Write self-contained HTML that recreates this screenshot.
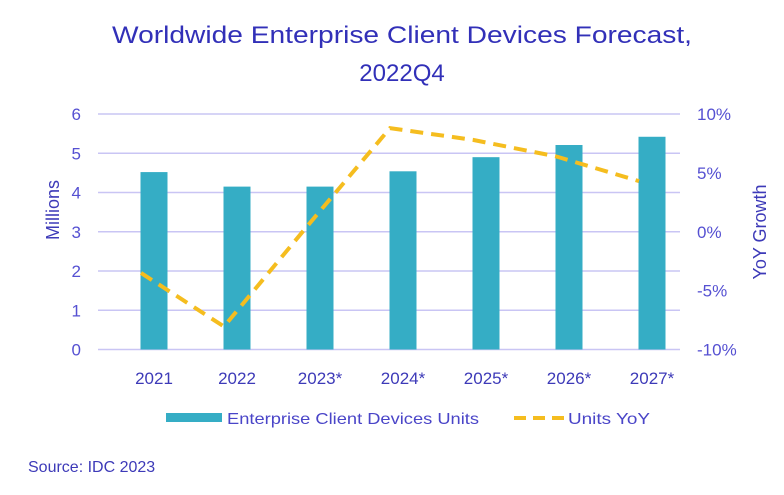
<!DOCTYPE html>
<html><head><meta charset="utf-8"><style>
html,body{margin:0;padding:0;background:#fff;}
svg{display:block;font-family:"Liberation Sans",sans-serif;}
</style></head><body>
<svg id="chart" width="784" height="495" viewBox="0 0 784 495">
<g fill="#3230b8" font-size="24" text-anchor="middle">
<text x="402" y="43" textLength="580" lengthAdjust="spacingAndGlyphs">Worldwide Enterprise Client Devices Forecast,</text>
<text x="402" y="81">2022Q4</text>
</g>
<g id="grid"></g>
<g id="bars"></g>
<path id="line" fill="none" stroke="#f5bd1f" stroke-width="4" stroke-dasharray="13,8"/>
<g id="ylab" fill="#5550d2" font-size="17" text-anchor="end"></g>
<g id="y2lab" fill="#5550d2" font-size="17"></g>
<g id="xlab" fill="#3d3ab8" font-size="17" text-anchor="middle"></g>
<text transform="translate(59,210) rotate(-90)" fill="#3d3ab8" font-size="18" text-anchor="middle">Millions</text>
<text transform="translate(766,232) rotate(-90)" fill="#3d3ab8" font-size="18" text-anchor="middle">YoY Growth</text>
<g>
<rect x="166" y="413" width="56" height="9" fill="#35adc5"/>
<text x="227" y="424" fill="#4a45c8" font-size="16" textLength="252" lengthAdjust="spacingAndGlyphs">Enterprise Client Devices Units</text>
<line x1="514" y1="418" x2="564" y2="418" stroke="#f5bd1f" stroke-width="4" stroke-dasharray="12,7"/>
<text x="568" y="424" fill="#4a45c8" font-size="16" textLength="82" lengthAdjust="spacingAndGlyphs">Units YoY</text>
</g>
<text x="28" y="472" fill="#3d3ab8" font-size="16">Source: IDC 2023</text>
</svg>
<script>
const categories=["2021","2022","2023*","2024*","2025*","2026*","2027*"];
const units=[4.52,4.15,4.15,4.54,4.90,5.21,5.42];
const yoy=[-3.5,-8.05,0.45,8.8,7.8,6.4,4.3];
const leftTicks=[0,1,2,3,4,5,6];
const rightTicks=[-10,-5,0,5,10];
const NS="http://www.w3.org/2000/svg";
const x0=98,x1=680,yTop=114,yBot=349.5;
const band=83;
const xc=i=>154+band*i;
const yL=v=>yBot-(v/6)*(yBot-yTop);
const yR=v=>yBot-((v+10)/20)*(yBot-yTop);
function mk(t,a,p){const e=document.createElementNS(NS,t);for(const k in a)e.setAttribute(k,a[k]);p.appendChild(e);return e;}
const grid=document.getElementById('grid'),bars=document.getElementById('bars');
leftTicks.forEach(v=>{
 const l=mk('line',{x1:x0,x2:x1,y1:yL(v),y2:yL(v),stroke:'#c9c5f4','stroke-width':1.5},grid);
 
 
 const t=mk('text',{x:81,y:yL(v)+6},document.getElementById('ylab'));
 
 
 t.textContent=v;
});
rightTicks.forEach(v=>{
 const t=mk('text',{x:697,y:yR(v)+6},document.getElementById('y2lab'));
 
 
 t.textContent=v+'%';
});
const bw=27;
categories.forEach((c,i)=>{
 const r=mk('rect',{x:xc(i)-bw/2,y:yL(units[i]),width:bw,height:yBot-yL(units[i]),fill:'#35adc5'},bars);
 
 
 const t=mk('text',{x:xc(i),y:384},document.getElementById('xlab'));
 
 
 t.textContent=c;
});
document.getElementById('line').setAttribute('d',yoy.map((v,i)=>(i?'L':'M')+(xc(i)-13)+','+yR(v)).join(' '));
</script>
</body></html>
